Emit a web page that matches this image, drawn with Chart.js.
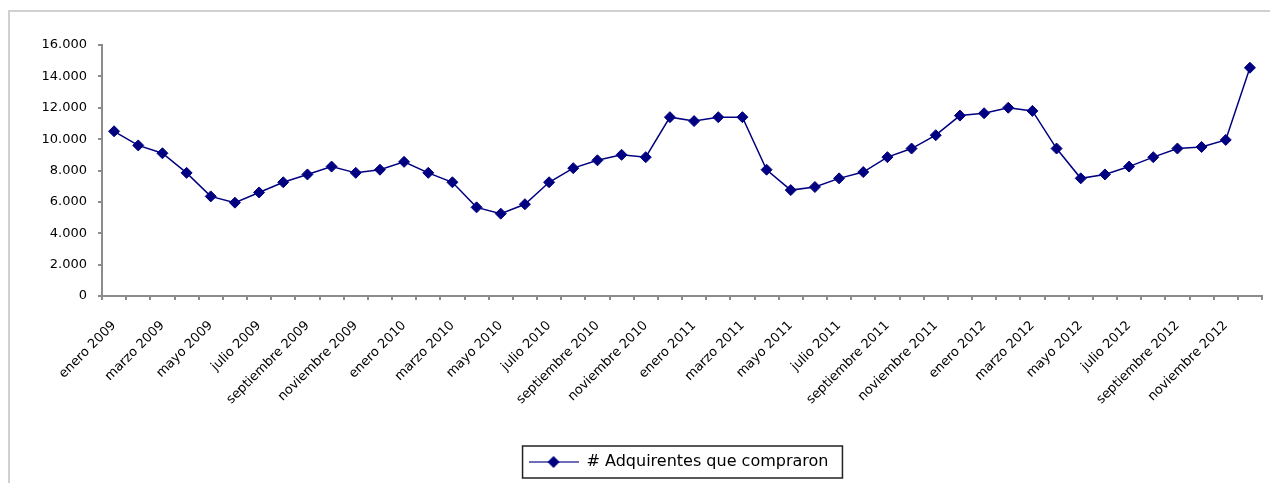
<!DOCTYPE html>
<html>
<head>
<meta charset="utf-8">
<script src="https://cdn.jsdelivr.net/npm/chart.js@4.4.1/dist/chart.umd.min.js"></script>
<style>
  html, body { margin: 0; padding: 0; background: #fff; }
  #wrap { position: relative; width: 1270px; height: 483px; overflow: hidden; }
  #frame { position: absolute; left: 8px; top: 10px; width: 1300px; height: 520px;
           border-left: 2px solid #d0d0d0; border-top: 2px solid #d0d0d0; }
  canvas { position: absolute; left: 0; top: 0; }
</style>
</head>
<body>
<div id="wrap">
  <div id="frame"></div>
  <canvas id="c" width="1270" height="483"></canvas>
</div>
<script>
const months = ["enero","febrero","marzo","abril","mayo","junio","julio","agosto","septiembre","octubre","noviembre","diciembre"];
const years = [2009, 2010, 2011, 2012];
const categories = [];
years.forEach(y => months.forEach(m => categories.push(m + " " + y)));

const seriesName = "# Adquirentes que compraron";
const values = [
  10500, 9600, 9100, 7850, 6350, 5950, 6600, 7250, 7750, 8250, 7850, 8050,
  8550, 7850, 7250, 5650, 5250, 5850, 7250, 8150, 8650, 9000, 8850, 11400,
  11150, 11400, 11400, 8050, 6750, 6950, 7500, 7900, 8850, 9400, 10250, 11500,
  11650, 12000, 11800, 9400, 7500, 7750, 8250, 8850, 9400, 9500, 9950, 14550
];
const yTicks = [0, 2000, 4000, 6000, 8000, 10000, 12000, 14000, 16000];

const navy = "#000080";
const axisGray = "#8c8c8c";
const fontFamily = "'DejaVu Sans', 'Liberation Sans', Arial, sans-serif";
const legendShift = 47;

// legend marker: line with diamond
const marker = document.createElement("canvas");
marker.width = 50; marker.height = 14;
(function(){
  const g = marker.getContext("2d");
  g.strokeStyle = "#3c3ca0"; g.lineWidth = 1.5;
  g.beginPath(); g.moveTo(0, 7); g.lineTo(50, 7); g.stroke();
  g.fillStyle = navy;
  g.beginPath(); g.moveTo(25 - 6, 7); g.lineTo(25, 1); g.lineTo(25 + 6, 7); g.lineTo(25, 13); g.closePath(); g.fill();
})();

const legendBox = {
  id: "legendBox",
  afterLayout(chart) {
    if (chart.legend) { chart.legend.left += legendShift; chart.legend.right += legendShift; }
  },
  afterDraw(chart) {
    const lg = chart.legend;
    const hb = lg && lg.legendHitBoxes && lg.legendHitBoxes[0];
    if (!hb) return;
    const cx = (lg.left + lg.right) / 2;
    const left = cx - hb.width / 2;
    const ctx = chart.ctx;
    ctx.save();
    ctx.strokeStyle = "#222";
    ctx.lineWidth = 1.5;
    ctx.strokeRect(left - 6, hb.top - 8, hb.width + 20, hb.height + 16);
    ctx.restore();
  }
};

new Chart(document.getElementById("c"), {
  type: "line",
  data: {
    labels: categories,
    datasets: [{
      label: seriesName,
      data: values,
      borderColor: navy,
      backgroundColor: navy,
      borderWidth: 1.5,
      pointStyle: "rectRot",
      pointRadius: 5.5,
      pointBorderWidth: 1,
      pointBorderColor: navy,
      pointBackgroundColor: navy,
      tension: 0,
      fill: false
    }]
  },
  options: {
    responsive: false,
    animation: false,
    layout: { padding: { top: 45, right: 8, bottom: 3, left: 1 } },
    plugins: {
      tooltip: { enabled: false },
      legend: {
        position: "bottom",
        labels: {
          usePointStyle: true,
          pointStyleWidth: 50,
          padding: 10,
          color: "#000",
          font: { family: fontFamily, size: 16 },
          generateLabels(chart) {
            const items = Chart.defaults.plugins.legend.labels.generateLabels(chart);
            items.forEach(i => { i.pointStyle = marker; i.fontColor = "#000"; });
            return items;
          }
        }
      }
    },
    scales: {
      x: {
        offset: true,
        grid: { display: true, drawOnChartArea: false, offset: true, tickLength: 4, color: axisGray, lineWidth: 2 },
        border: { color: axisGray, width: 2 },
        ticks: {
          autoSkip: false, maxRotation: 45, minRotation: 45,
          color: "#000", padding: 18,
          font: { family: fontFamily, size: 13 },
          callback(v, i) { return i % 2 === 0 ? categories[i] : ""; }
        },
        afterFit(scale) { scale.height = 148; scale.paddingLeft = 0; scale.paddingRight = 0; }
      },
      y: {
        min: 0, max: 16000,
        afterBuildTicks(scale) { scale.ticks = yTicks.map(v => ({ value: v })); },
        grid: { display: true, drawOnChartArea: false, tickLength: 4, color: axisGray, lineWidth: 2 },
        border: { color: axisGray, width: 2 },
        ticks: {
          color: "#000", padding: 11,
          font: { family: fontFamily, size: 13 },
          callback(v) { return v.toLocaleString("de-DE"); }
        },
        afterFit(scale) { scale.width = 101; }
      }
    }
  },
  plugins: [legendBox]
});
</script>
</body>
</html>
